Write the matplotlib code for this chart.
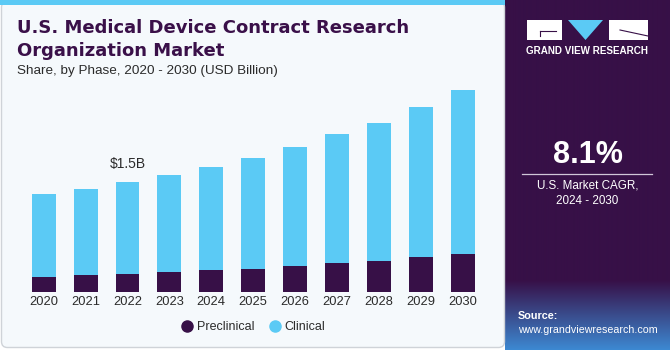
import numpy as np
import matplotlib.pyplot as plt
from matplotlib.patches import Rectangle, FancyBboxPatch, Polygon
from matplotlib.lines import Line2D

years = ["2020", "2021", "2022", "2023", "2024", "2025", "2026", "2027", "2028", "2029", "2030"]
preclinical = [0.21, 0.23, 0.25, 0.27, 0.30, 0.32, 0.35, 0.39, 0.42, 0.48, 0.52]
clinical = [1.13, 1.18, 1.25, 1.33, 1.41, 1.51, 1.63, 1.77, 1.89, 2.04, 2.23]
highlight_year = "2022"
highlight_label = r"\$1.5B"

DARK = "#371047"
BLUE = "#5bcaf5"
TEXT = "#2b2b2b"

plt.rcParams['font.family'] = ['Liberation Sans', 'DejaVu Sans']

fig = plt.figure(figsize=(6.7, 3.5), dpi=100)

# background layer in pixel coordinates
bg = fig.add_axes([0, 0, 1, 1], zorder=0)
bg.axis("off")
bg.add_patch(FancyBboxPatch((1.5, 1.5), 503, 346, boxstyle="round,pad=0,rounding_size=6",
                            fc="#f5f9fc", ec="#cfd3d8", lw=1))
bg.add_patch(Rectangle((0, 0), 505, 5, fc=BLUE, ec="none"))

# right panel, purple fading to blue at the bottom
purple = np.array([0x37, 0x10, 0x47]) / 255
blue_end = np.array([0x3d, 0x8a, 0xd4]) / 255
rows = np.arange(350)
t = np.clip((rows - 280) / 70, 0, 1)[:, None]
grad = (purple * (1 - t) + blue_end * t)[:, None, :]
bg.imshow(grad, extent=[505, 670, 350, 0], aspect="auto", interpolation="bilinear")

# logo
bg.add_patch(Rectangle((527, 20), 35, 20, fc="white", ec="none"))
bg.plot([540, 556], [31, 31], color=DARK, lw=0.8)
bg.plot([540, 540], [31, 36], color=DARK, lw=0.8)
bg.add_patch(Polygon([(568, 20), (603, 20), (585.5, 40)], fc=BLUE, ec="none"))
bg.add_patch(Rectangle((609, 20), 39, 20, fc="white", ec="none"))
bg.plot([620, 648], [30, 36], color=DARK, lw=0.8)
bg.text(587.5, 51, "GRAND VIEW RESEARCH", color="white", fontsize=7.1, fontweight="bold",
        ha="center", va="center")

bg.text(587.5, 155, "8.1%", color="white", fontsize=22, fontweight="bold", ha="center", va="center")
bg.plot([522, 652], [173.5, 173.5], color="#d0c6d8", lw=0.9)
bg.text(587.5, 186, "U.S. Market CAGR,", color="white", fontsize=8.4, ha="center", va="center")
bg.text(587.5, 201, "2024 - 2030", color="white", fontsize=8.4, ha="center", va="center")
bg.text(518, 316, "Source:", color="white", fontsize=7.8, fontweight="bold", ha="left", va="center")
bg.text(518, 330, "www.grandviewresearch.com", color="white", fontsize=7.7, ha="left", va="center")

# titles
bg.text(17, 28, "U.S. Medical Device Contract Research", color="#3a1049", fontsize=13,
        fontweight="bold", family="DejaVu Sans", ha="left", va="center")
bg.text(17, 51, "Organization Market", color="#3a1049", fontsize=13,
        fontweight="bold", family="DejaVu Sans", ha="left", va="center")
bg.text(17, 71, "Share, by Phase, 2020 - 2030 (USD Billion)", color=TEXT, fontsize=9.7,
        ha="left", va="center")

bg.set_xlim(0, 670)
bg.set_ylim(350, 0)

# chart
ax = fig.add_axes([0, 58 / 350, 505 / 670, 212 / 350], zorder=1)
ax.patch.set_alpha(0)
x = np.arange(len(years))
totals = np.array(preclinical) + np.array(clinical)
ax.bar(x, preclinical, 0.57, color=DARK, label="Preclinical")
ax.bar(x, clinical, 0.57, bottom=preclinical, color=BLUE, label="Clinical")
ax.set_xlim(-1.043, 11.01)
ax.set_ylim(0, 2.892)
ax.set_xticks(x, years)
ax.set_yticks([])
ax.tick_params(axis="x", length=0, pad=3, labelsize=9.3, labelcolor=TEXT)
for s in ax.spines.values():
    s.set_visible(False)

i = years.index(highlight_year)
ax.annotate(highlight_label, (x[i], totals[i]), xytext=(0, 13), textcoords="offset points",
            ha="center", va="center", fontsize=10, color=TEXT)

handles = [Line2D([], [], marker="o", ls="", markersize=8, color=DARK),
           Line2D([], [], marker="o", ls="", markersize=8, color=BLUE)]
fig.legend(handles, ["Preclinical", "Clinical"], loc="center", bbox_to_anchor=(253 / 670, 1 - 327 / 350),
           ncol=2, frameon=False, fontsize=9, handletextpad=0.3, columnspacing=1.1,
           handlelength=1, labelcolor=TEXT)

fig.savefig("out.png", dpi=100)
